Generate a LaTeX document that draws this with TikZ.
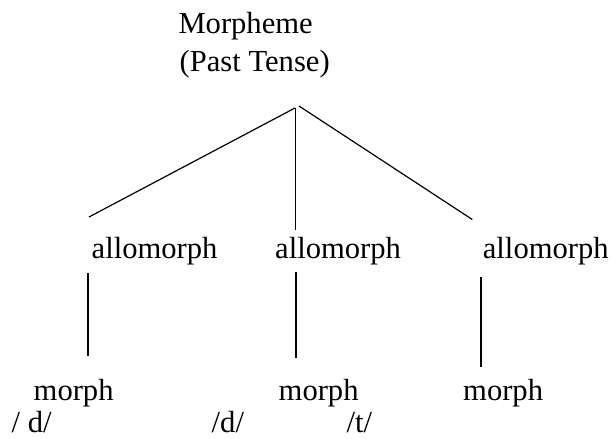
\documentclass[tikz,border=0pt]{standalone}
\usepackage{fontspec}
\setmainfont{Liberation Serif}
\begin{document}
\begin{tikzpicture}[x=1pt,y=-1pt,
  lbl/.style={inner sep=0pt, anchor=base west, font=\fontsize{30.6}{36}\selectfont},
  branch/.style={line width=1.2pt},
  stem/.style={line width=1.0pt},
  leaf/.style={line width=1.6pt}]
\useasboundingbox (0,0) rectangle (611,439);
\fill[white] (0,0) rectangle (611,439);
% top
\node[lbl] (mor) at (178.3,33) {Morpheme};
\node[lbl] (past) at (179.5,71) {(Past Tense)};
% apex coordinates
\coordinate (apexL) at (295,108);
\coordinate (apexR) at (299,106);
\coordinate (apexV) at (295.7,108);
% allomorph row
\node[lbl] (a1) at (91.5,258) {allomorph};
\node[lbl] (a2) at (275,258) {allomorph};
\node[lbl] (a3) at (482.7,258) {allomorph};
\coordinate (a1t) at (89,217);
\coordinate (a2t) at (295.7,230);
\coordinate (a3t) at (472.3,219.5);
\draw[branch] (apexL) -- (a1t);
\draw[stem] (apexV) -- (a2t);
\draw[branch] (apexR) -- (a3t);
% morph row
\node[lbl] (m1) at (33.5,400) {morph};
\node[lbl] (m2) at (278.5,400) {morph};
\node[lbl] (m3) at (463,400) {morph};
\coordinate (a1b) at (87.7,273);
\coordinate (m1t) at (87.7,356);
\coordinate (a2b) at (295.7,271.7);
\coordinate (m2t) at (295.7,358.3);
\coordinate (a3b) at (481,277);
\coordinate (m3t) at (481,366.7);
\draw[leaf] (a1b) -- (m1t);
\draw[leaf] (a2b) -- (m2t);
\draw[leaf] (a3b) -- (m3t);
% phonemes
\node[lbl] (p1) at (11.5,432.5) {/ d/};
\node[lbl] (p2) at (211.5,432.5) {/d/};
\node[lbl] (p3) at (346.5,432.5) {/t/};
\end{tikzpicture}
\end{document}
